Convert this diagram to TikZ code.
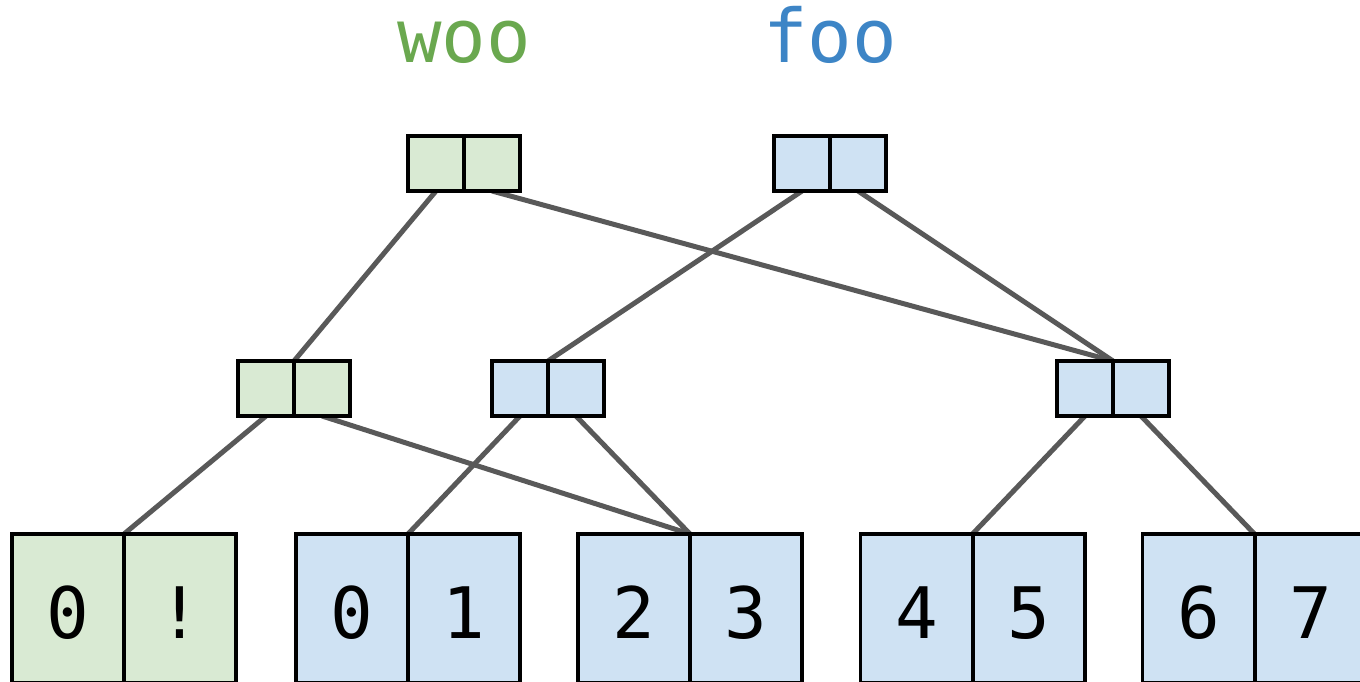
\documentclass[tikz,border=0pt]{standalone}
\usepackage{fontspec}
\setmonofont{DejaVu Sans Mono}
\usetikzlibrary{backgrounds}
\definecolor{gfill}{HTML}{D9EAD3}
\definecolor{bfill}{HTML}{CFE2F3}
\definecolor{gtext}{HTML}{6AA84F}
\definecolor{btext}{HTML}{3D85C6}
\definecolor{linegray}{HTML}{595959}
\begin{document}
\begin{tikzpicture}[x=1pt,y=-1pt,
  cell/.style={draw=black, line width=3.8pt, minimum width=56pt, minimum height=55pt, inner sep=0pt, outer sep=0pt},
  gcell/.style={cell, fill=gfill},
  bcell/.style={cell, fill=bfill},
  bigcell/.style={minimum width=112pt, minimum height=149pt, text height=60pt, text depth=0pt, font=\fontsize{71}{71}\selectfont\ttfamily},
  title/.style={anchor=base, font=\fontsize{74}{74}\selectfont\ttfamily},
  ptr/.style={draw=linegray, line width=5pt}]
\useasboundingbox (0,0) rectangle (1360,682);
\clip (0,0) rectangle (1360,682);
% labels
\node[title, text=gtext] (woo) at (464,63) {woo};
\node[title, text=btext] (foo) at (830,63) {foo};
% top level
\node[gcell] (tgL) at (436,163.5) {};
\node[gcell] (tgR) at (492,163.5) {};
\node[bcell] (tbL) at (802,163.5) {};
\node[bcell] (tbR) at (858,163.5) {};
% middle level
\node[gcell] (mgL) at (266,388.5) {};
\node[gcell] (mgR) at (322,388.5) {};
\node[bcell] (mbL) at (520,388.5) {};
\node[bcell] (mbR) at (576,388.5) {};
\node[bcell] (rbL) at (1085,388.5) {};
\node[bcell] (rbR) at (1141,388.5) {};
% leaves
\node[gcell, bigcell] (b1L) at (68,608.5) {0};
\node[gcell, bigcell] (b1R) at (180,608.5) {!};
\node[bcell, bigcell] (b2L) at (352,608.5) {0};
\node[bcell, bigcell] (b2R) at (464,608.5) {1};
\node[bcell, bigcell] (b3L) at (634,608.5) {2};
\node[bcell, bigcell] (b3R) at (746,608.5) {3};
\node[bcell, bigcell] (b4L) at (916.5,608.5) {4};
\node[bcell, bigcell] (b4R) at (1029,608.5) {5};
\node[bcell, bigcell] (b5L) at (1198.5,608.5) {6};
\node[bcell, bigcell] (b5R) at (1311,608.5) {7};
% pointers
\begin{scope}[on background layer]
\draw[ptr] (tgL.south) -- (mgL.north east);
\draw[ptr] (tgR.south) -- (rbL.north east);
\draw[ptr] (tbL.south) -- (mbL.north east);
\draw[ptr] (tbR.south) -- (rbL.north east);
\draw[ptr] (mgL.south) -- (b1L.north east);
\draw[ptr] (mgR.south) -- (b3L.north east);
\draw[ptr] (mbL.south) -- (b2L.north east);
\draw[ptr] (mbR.south) -- (b3L.north east);
\draw[ptr] (rbL.south) -- (b4L.north east);
\draw[ptr] (rbR.south) -- (b5L.north east);
\end{scope}
\end{tikzpicture}
\end{document}
